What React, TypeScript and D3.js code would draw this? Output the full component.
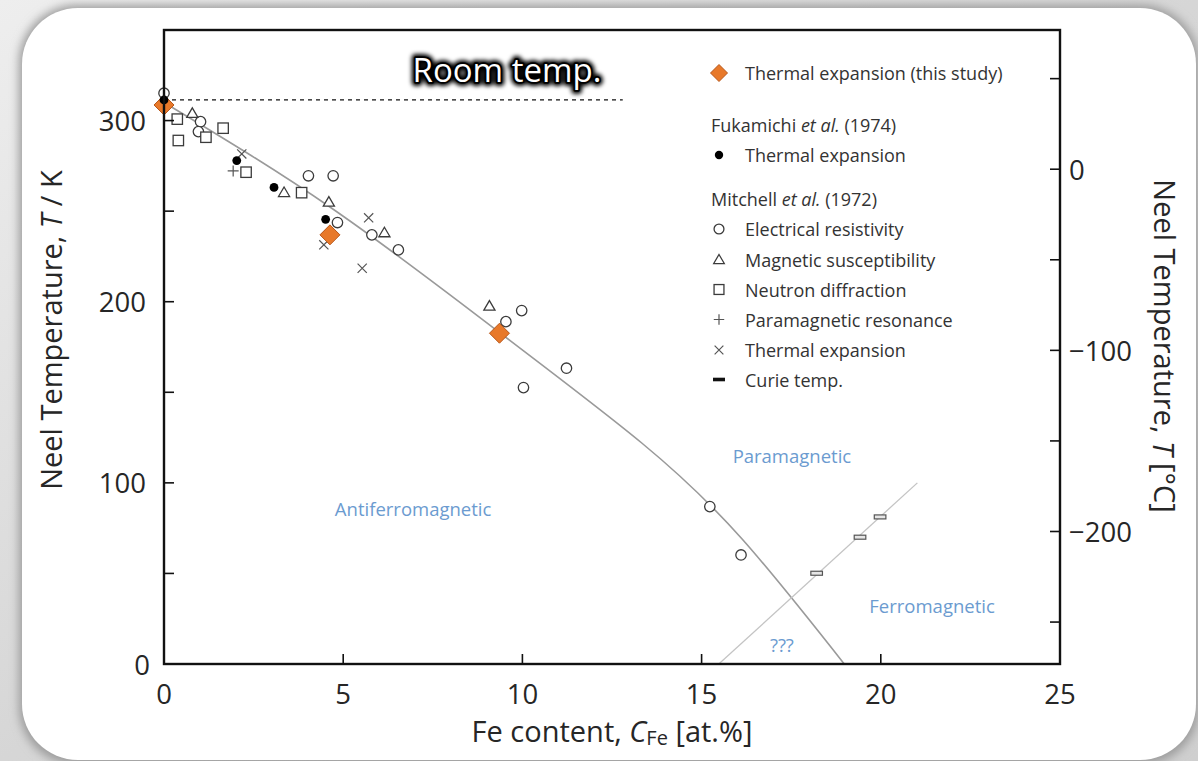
import React from "react";
import * as d3 from "d3";

const W = 1198;
const H = 761;

// Fe content (at.%) and Néel temperature (K) pairs
const thisStudy: [number, number][] = [[0, 308.6], [4.63, 236.9], [9.36, 182.6]];
const fukamichiThermal: [number, number][] = [[0, 311.4], [2.03, 277.9], [3.07, 263.1], [4.51, 245.5]];
const mitchellResistivity: [number, number][] = [
  [0, 315.1], [1.02, 299.4], [0.96, 293.9], [4.03, 269.5], [4.72, 269.5], [4.84, 243.7],
  [5.8, 236.9], [6.54, 228.6], [9.54, 189.0], [9.98, 195.1], [10.03, 152.6], [11.23, 163.3],
  [15.23, 86.9], [16.1, 60.2],
];
const mitchellSusceptibility: [number, number][] = [[0.79, 304.1], [3.35, 260.4], [4.6, 255.1], [6.15, 238.2], [9.08, 197.7]];
const mitchellNeutron: [number, number][] = [[0.37, 300.8], [0.4, 289.0], [1.17, 290.8], [1.65, 295.8], [2.29, 271.5], [3.84, 260.2]];
const mitchellResonance: [number, number][] = [[1.93, 272.2]];
const mitchellThermal: [number, number][] = [[2.17, 281.6], [5.71, 246.3], [4.46, 231.4], [5.53, 218.5]];
const curieTemp: [number, number][] = [[18.21, 50.1], [19.42, 70.0], [19.98, 81.2]];

// Guide curves
const neelCurve: [number, number][] = [
  [0, 310], [4.65, 252], [9.36, 183], [13.33, 122], [16.13, 69], [18.98, 0],
];
const curieLine: [number, number][] = [[15.48, 0], [21.02, 100]];
const roomTempLine: [number, number][] = [[0, 311.4], [12.8, 311.4]];

// Axes
const xTicks = [0, 5, 10, 15, 20, 25];
const yTicksK = [0, 50, 100, 150, 200, 250, 300];
const yLabelsK = [0, 100, 200, 300];
const yTicksC = [50, 0, -50, -100, -150, -200, -250];
const yLabelsC = [0, -100, -200];

const regionLabels = [
  { text: "Antiferromagnetic", c: 6.95, t: 86 },
  { text: "Paramagnetic", c: 17.52, t: 115 },
  { text: "Ferromagnetic", c: 21.43, t: 32.5 },
  { text: "???", c: 17.24, t: 10.5 },
];

const ORANGE = "#e8792a";
const ORANGE_DARK = "#b8571a";
const MARK = "#3b3b3b";
const REGION = "#6b9bd0";
const TEXT = "#262626";

type Kind = "diamond" | "dot" | "circle" | "triangle" | "square" | "plus" | "times" | "dash" | "curie";

function Marker({ kind, cx, cy, s = 1 }: { kind: Kind; cx: number; cy: number; s?: number }) {
  switch (kind) {
    case "diamond": {
      const r = 10 * s;
      return <path d={`M${cx},${cy - r}L${cx + r},${cy}L${cx},${cy + r}L${cx - r},${cy}Z`} fill={ORANGE} stroke={ORANGE_DARK} strokeWidth={1} />;
    }
    case "dot":
      return <circle cx={cx} cy={cy} r={4.4 * s} fill="#000" />;
    case "circle":
      return <circle cx={cx} cy={cy} r={5.2 * s} fill="#fff" stroke={MARK} strokeWidth={1.3} />;
    case "triangle": {
      const h = 5.3 * s;
      return <path d={`M${cx},${cy - h}L${cx + h * 1.05},${cy + h * 0.8}L${cx - h * 1.05},${cy + h * 0.8}Z`} fill="#fff" stroke={MARK} strokeWidth={1.3} />;
    }
    case "square": {
      const h = 5.2 * s;
      return <rect x={cx - h} y={cy - h} width={2 * h} height={2 * h} fill="#fff" stroke={MARK} strokeWidth={1.3} />;
    }
    case "plus": {
      const h = 5.5 * s;
      return <path d={`M${cx - h},${cy}H${cx + h}M${cx},${cy - h}V${cy + h}`} stroke="#555" strokeWidth={1.2} />;
    }
    case "times": {
      const h = 4.6 * s;
      return <path d={`M${cx - h},${cy - h}L${cx + h},${cy + h}M${cx + h},${cy - h}L${cx - h},${cy + h}`} stroke="#555" strokeWidth={1.2} />;
    }
    case "dash":
      return <rect x={cx - 6} y={cy - 1.8} width={12} height={3.6} fill="#111" />;
    case "curie":
      return <rect x={cx - 5.8} y={cy - 2} width={11.6} height={4} fill="#e6e6e6" stroke="#555" strokeWidth={1.2} />;
  }
  return null;
}

export default function App() {
  const x = d3.scaleLinear().domain([0, 25]).range([164, 1060]);
  const y = d3.scaleLinear().domain([0, 350]).range([664, 30]);
  const yC = d3.scaleLinear().domain([-273.15, 350 - 273.15]).range([664, 30]);

  const line = d3.line<[number, number]>().x((d) => x(d[0])).y((d) => y(d[1]));
  const curve = d3
    .line<[number, number]>()
    .x((d) => x(d[0]))
    .y((d) => y(d[1]))
    .curve(d3.curveNatural);

  const [x0, x1] = x.range();
  const [yb, yt] = y.range();

  const series: { data: [number, number][]; kind: Kind }[] = [
    { data: mitchellResistivity, kind: "circle" },
    { data: mitchellSusceptibility, kind: "triangle" },
    { data: mitchellNeutron, kind: "square" },
    { data: mitchellResonance, kind: "plus" },
    { data: mitchellThermal, kind: "times" },
    { data: curieTemp, kind: "curie" },
    { data: thisStudy, kind: "diamond" },
    { data: fukamichiThermal, kind: "dot" },
  ];

  const legendX = 719;
  const legendText = 745;
  const legendRows: { kind?: Kind; y: number; label: React.ReactNode; header?: boolean }[] = [
    { kind: "diamond", y: 73, label: "Thermal expansion (this study)" },
    { y: 125, header: true, label: (<>Fukamichi <tspan fontStyle="italic">et al.</tspan> (1974)</>) },
    { kind: "dot", y: 155, label: "Thermal expansion" },
    { y: 199, header: true, label: (<>Mitchell <tspan fontStyle="italic">et al.</tspan> (1972)</>) },
    { kind: "circle", y: 229, label: "Electrical resistivity" },
    { kind: "triangle", y: 259.5, label: "Magnetic susceptibility" },
    { kind: "square", y: 289.5, label: "Neutron diffraction" },
    { kind: "plus", y: 319.5, label: "Paramagnetic resonance" },
    { kind: "times", y: 350, label: "Thermal expansion" },
    { kind: "dash", y: 379.5, label: "Curie temp." },
  ];

  return (
    <svg
      width={W}
      height={H}
      viewBox={`0 0 ${W} ${H}`}
      style={{ position: "absolute", left: 0, top: 0, display: "block" }}
      fontFamily="'Open Sans', 'Noto Sans', sans-serif"
    >
      <defs>
        <linearGradient id="frameGrad" x1="0" y1="0" x2="1" y2="1">
          <stop offset="0" stopColor="#eeeeee" />
          <stop offset="0.5" stopColor="#d6d6d6" />
          <stop offset="1" stopColor="#cfcfcf" />
        </linearGradient>
        <filter id="cardShadow" x="-5%" y="-5%" width="110%" height="110%">
          <feGaussianBlur stdDeviation="5" />
        </filter>
        <filter id="textGlow" x="-10%" y="-40%" width="120%" height="180%">
          <feGaussianBlur stdDeviation="2" />
        </filter>
        <clipPath id="plotClip">
          <rect x={x0} y={yt} width={x1 - x0} height={yb - yt} />
        </clipPath>
      </defs>

      {/* page frame and card */}
      <rect x={0} y={0} width={W} height={H} fill="url(#frameGrad)" />
      <rect x={19} y={5} width={1180} height={760} rx={58} fill="#9c9c9c" filter="url(#cardShadow)" />
      <rect x={22} y={8} width={1174} height={752} rx={56} fill="#ffffff" />

      {/* guide curves */}
      <g clipPath="url(#plotClip)">
        <path d={curve(neelCurve) || ""} fill="none" stroke="#9a9a9a" strokeWidth={1.6} />
        <path d={line(curieLine) || ""} fill="none" stroke="#c4c4c4" strokeWidth={1.3} />
      </g>
      <path d={line(roomTempLine) || ""} fill="none" stroke="#111" strokeWidth={1.1} strokeDasharray="4 4" />

      {/* region labels */}
      {regionLabels.map((r) => (
        <text key={r.text} x={x(r.c)} y={y(r.t)} fill={REGION} fontSize={18.5} textAnchor="middle" dominantBaseline="central">
          {r.text}
        </text>
      ))}

      {/* data markers */}
      {series.map((s, i) => (
        <g key={i}>
          {s.data.map((d, j) => (
            <Marker key={j} kind={s.kind} cx={x(d[0])} cy={y(d[1])} />
          ))}
        </g>
      ))}

      {/* plot frame */}
      <rect x={x0} y={yt} width={x1 - x0} height={yb - yt} fill="none" stroke="#111" strokeWidth={2.4} />

      {/* bottom axis */}
      {xTicks.map((t) => (
        <g key={`x${t}`}>
          {t > 0 && t < 25 && <line x1={x(t)} x2={x(t)} y1={yb} y2={yb - 10} stroke="#111" strokeWidth={1.6} />}
          <text x={x(t)} y={yb + 29} fontSize={27.5} fill={TEXT} textAnchor="middle" dominantBaseline="central">
            {t}
          </text>
        </g>
      ))}

      {/* left axis, Kelvin */}
      {yTicksK.map((t) =>
        t > 0 ? <line key={`yk${t}`} x1={x0} x2={x0 + 10} y1={y(t)} y2={y(t)} stroke="#111" strokeWidth={1.6} /> : null
      )}
      {yLabelsK.map((t) => (
        <text key={`ykl${t}`} x={t === 0 ? 150 : 146} y={y(t)} fontSize={27.5} fill={TEXT} textAnchor="end" dominantBaseline="central">
          {t}
        </text>
      ))}

      {/* right axis, Celsius */}
      {yTicksC.map((t) => (
        <line key={`yc${t}`} x1={x1} x2={x1 - 10} y1={yC(t)} y2={yC(t)} stroke="#111" strokeWidth={1.6} />
      ))}
      {yLabelsC.map((t) => (
        <text key={`ycl${t}`} x={1069} y={yC(t)} fontSize={27.5} fill={TEXT} textAnchor="start" dominantBaseline="central">
          {t < 0 ? `\u2212${-t}` : t}
        </text>
      ))}

      {/* axis titles */}
      <text x={612} y={730} fontSize={29} fill={TEXT} textAnchor="middle" dominantBaseline="central">
        Fe content, <tspan fontStyle="italic">C</tspan>
        <tspan fontSize={20} dy={7}>Fe</tspan>
        <tspan dy={-7}> [at.%]</tspan>
      </text>
      <text transform="translate(50,330) rotate(-90)" fontSize={29} fill={TEXT} textAnchor="middle" dominantBaseline="central">
        Neel Temperature, <tspan fontStyle="italic">T</tspan> / K
      </text>
      <text transform="translate(1165,346) rotate(90)" fontSize={29} fill={TEXT} textAnchor="middle" dominantBaseline="central">
        Neel Temperature, <tspan fontStyle="italic">T</tspan> [°C]
      </text>

      {/* room temperature label */}
      <g fontSize={33} textAnchor="middle">
        <text x={507} y={82} fill="#000" stroke="#000" strokeWidth={8} strokeLinejoin="round" filter="url(#textGlow)">
          Room temp.
        </text>
        <text x={507} y={82} fill="#000" stroke="#000" strokeWidth={3.5} strokeLinejoin="round">
          Room temp.
        </text>
        <text x={507} y={82} fill="#fff">
          Room temp.
        </text>
      </g>

      {/* legend */}
      {legendRows.map((r, i) => (
        <g key={i}>
          {r.kind && <Marker kind={r.kind} cx={legendX} cy={r.y} s={r.kind === "diamond" ? 0.85 : 0.95} />}
          <text x={r.header ? 711 : legendText} y={r.y} fontSize={18} fill="#333" dominantBaseline="central">
            {r.label}
          </text>
        </g>
      ))}
    </svg>
  );
}
